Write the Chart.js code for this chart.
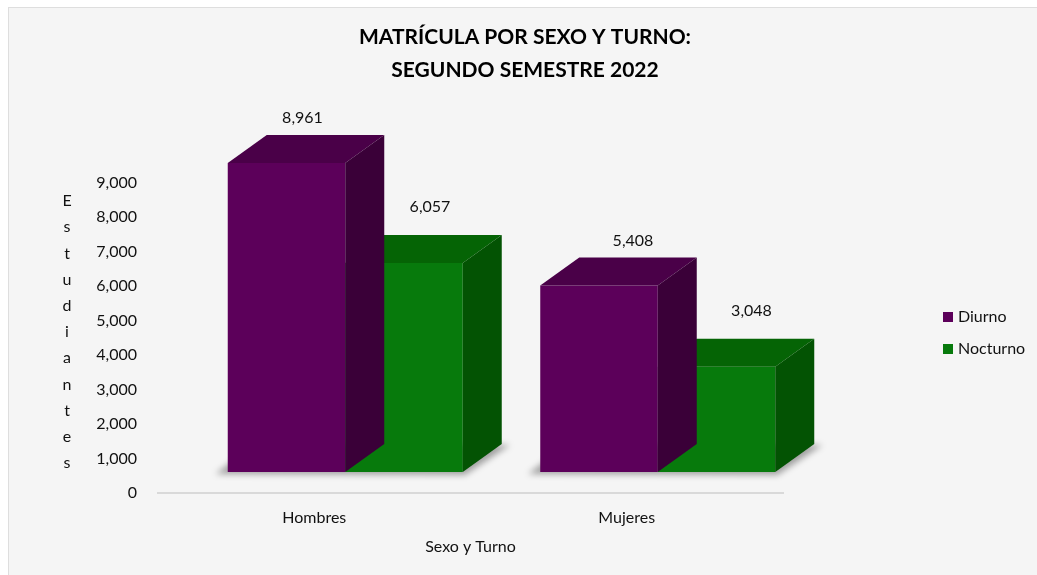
<!DOCTYPE html>
<html>
<head>
<meta charset="utf-8">
<script src="https://cdn.jsdelivr.net/npm/chart.js@4.4.0/dist/chart.umd.min.js"></script>
<style>
  html, body { margin: 0; padding: 0; background: #fff; }
  #wrap { width: 1037px; height: 575px; }
</style>
</head>
<body>
<div id="wrap"><canvas id="matricula"></canvas></div>
<script>
var categorias = ['Hombres', 'Mujeres'];
var diurno = [8961, 5408];
var nocturno = [6057, 3048];
var tituloY = 'Estudiantes';
var tituloX = 'Sexo y Turno';

var fuente = 'Lato, "Open Sans", sans-serif';
// caras del falso 3d: frente, arriba, lado
var colDiurno = ['#5c005a', '#4a0048', '#3a0038'];
var colNocturno = ['#077a0c', '#056405', '#035303'];
var fondo = { dx: 39, dy: -28 };
var corrimiento = { x: 31, y: -21 };
// ajuste de las etiquetas de valor (perspectiva)
var etiquetaDx = [[16, 34], [26, 35]];
var etiquetaDy = [-45, -56];

function poly(ctx, pts, color) {
    ctx.beginPath();
    ctx.moveTo(pts[0][0], pts[0][1]);
    for (var i = 1; i < pts.length; i++)
        ctx.lineTo(pts[i][0], pts[i][1]);
    ctx.closePath();
    ctx.fillStyle = color;
    ctx.fill();
}

var falso3d = {
    id: 'falso3d',
    beforeDraw: function (chart) {
        let ctx = chart.ctx;
        ctx.save();
        ctx.fillStyle = '#ffffff';
        ctx.fillRect(0, 0, chart.width, chart.height);
        ctx.fillStyle = '#f5f5f5';
        ctx.fillRect(8, 7, chart.width, chart.height);
        ctx.strokeStyle = '#dedede';
        ctx.lineWidth = 1;
        ctx.strokeRect(8.5, 7.5, chart.width + 10, chart.height + 10);
        ctx.restore();
    },
    beforeDatasetsDraw: function (chart) {
        let ctx = chart.ctx;
        ctx.save();
        ctx.translate(corrimiento.x, corrimiento.y);
        // sombra en el piso
        let m0 = chart.getDatasetMeta(0), m1 = chart.getDatasetMeta(1);
        for (var i = 0; i < m0.data.length; i++) {
            let a = m0.data[i], b = m1.data[i];
            let l = a.x - a.width / 2, r = b.x + b.width / 2, base = a.base;
            ctx.save();
            ctx.filter = 'blur(3px)';
            poly(ctx, [[l - 12, base + 2], [r + 2, base + 3], [r + fondo.dx + 8, base + fondo.dy + 1], [l + fondo.dx - 12, base + fondo.dy]], 'rgba(0,0,0,0.35)');
            ctx.restore();
        }
    },
    afterDatasetDraw: function (chart, args) {
        let ctx = chart.ctx;
        let cols = args.index == 0 ? colDiurno : colNocturno;
        args.meta.data.forEach(function (bar) {
            let l = bar.x - bar.width / 2, r = bar.x + bar.width / 2;
            let y = bar.y, base = bar.base;
            poly(ctx, [[l, y], [l + fondo.dx, y + fondo.dy], [r + fondo.dx, y + fondo.dy], [r, y]], cols[1]);
            poly(ctx, [[r, y], [r + fondo.dx, y + fondo.dy], [r + fondo.dx, base + fondo.dy], [r, base]], cols[2]);
        });
    },
    afterDatasetsDraw: function (chart) {
        let ctx = chart.ctx;
        ctx.font = '16px ' + fuente;
        ctx.fillStyle = '#111';
        ctx.textAlign = 'center';
        ctx.textBaseline = 'middle';
        chart.data.datasets.forEach(function (ds, d) {
            chart.getDatasetMeta(d).data.forEach(function (bar, i) {
                ctx.fillText(ds.data[i].toLocaleString('en-US'), bar.x + etiquetaDx[d][i], bar.y + etiquetaDy[d]);
            });
        });
        ctx.restore();
    },
    afterDraw: function (chart) {
        let ctx = chart.ctx;
        let area = chart.chartArea;
        ctx.save();
        ctx.font = '16px ' + fuente;
        ctx.fillStyle = '#111';
        ctx.textBaseline = 'middle';
        // titulo del eje y, una letra por linea
        ctx.textAlign = 'center';
        let letras = tituloY.split('');
        let paso = 26.2;
        let y0 = 332 - paso * (letras.length - 1) / 2;
        letras.forEach(function (c, i) {
            ctx.fillText(c, 67, y0 + i * paso);
        });
        // leyenda
        ctx.textAlign = 'left';
        chart.data.datasets.forEach(function (ds, i) {
            let ly = 317 + i * 32;
            let lx = area.right + 160;
            ctx.fillStyle = ds.backgroundColor;
            ctx.fillRect(lx, ly - 5, 10, 10);
            ctx.fillStyle = '#111';
            ctx.fillText(ds.label, lx + 15, ly);
        });
        ctx.restore();
    }
};

var ctx = document.getElementById('matricula').getContext('2d');
var matriculaChart = new Chart(ctx, {
    type: 'bar',
    data: {
        labels: categorias,
        datasets: [{
            label: 'Diurno',
            data: diurno,
            backgroundColor: colDiurno[0],
            borderWidth: 0,
            barPercentage: 1,
            categoryPercentage: 0.752
        }, {
            label: 'Nocturno',
            data: nocturno,
            backgroundColor: colNocturno[0],
            borderWidth: 0,
            barPercentage: 1,
            categoryPercentage: 0.752
        }]
    },
    options: {
        responsive: true,
        maintainAspectRatio: false,
        animation: false,
        devicePixelRatio: 1,
        layout: {
            padding: { left: 13, right: 0, top: 0, bottom: 0 }
        },
        plugins: {
            legend: { display: false },
            tooltip: { enabled: false },
            title: {
                display: true,
                text: ['MATRÍCULA POR SEXO Y TURNO:', 'SEGUNDO SEMESTRE 2022'],
                color: '#000',
                font: { family: fuente, size: 21, weight: 'bold', lineHeight: 1.55 },
                padding: { top: 21, bottom: 62 }
            }
        },
        scales: {
            x: {
                grid: { display: false, drawTicks: false },
                border: { display: true, color: '#d9d9d9', width: 2 },
                ticks: { color: '#111', font: { family: fuente, size: 16 }, padding: 15 },
                title: {
                    display: true,
                    text: tituloX,
                    color: '#111',
                    font: { family: fuente, size: 16 },
                    padding: { top: 9, bottom: 19 }
                },
                afterFit: function (scale) { scale.height = 82; }
            },
            y: {
                min: 0,
                max: 10000,
                grid: { display: false, drawTicks: false },
                border: { display: false },
                ticks: {
                    stepSize: 1000,
                    padding: 21,
                    color: '#111',
                    font: { family: fuente, size: 16 },
                    callback: function (v) { return v > 9000 ? '' : v.toLocaleString('en-US'); }
                },
                afterFit: function (scale) { scale.width = 145; }
            },
            derecha: {
                type: 'linear',
                position: 'right',
                grid: { display: false, drawTicks: false },
                border: { display: false },
                ticks: { display: false },
                afterFit: function (scale) { scale.width = 254; }
            }
        }
    },
    plugins: [falso3d]
});
</script>
</body>
</html>
